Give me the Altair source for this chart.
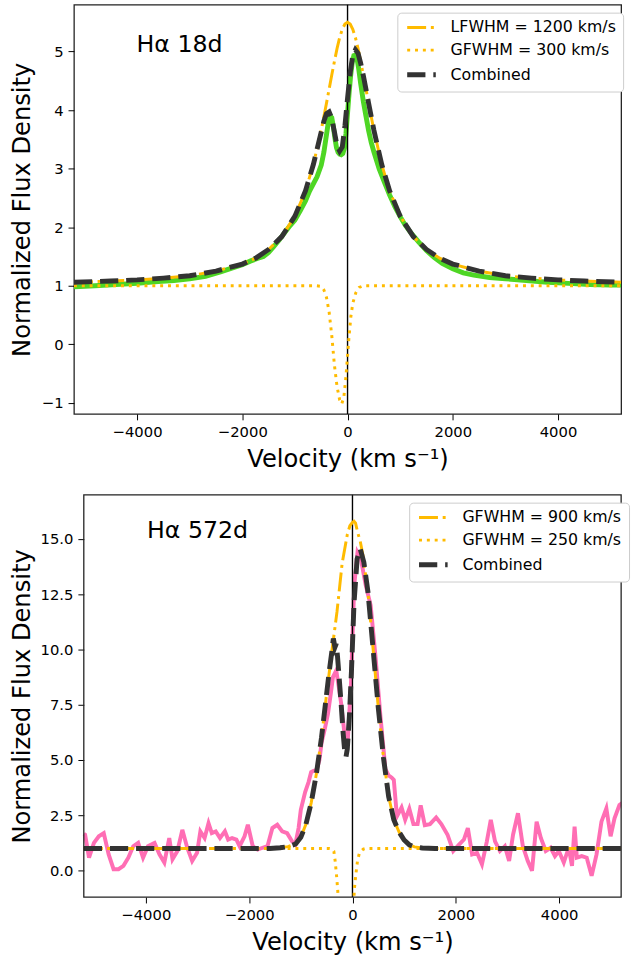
import altair as alt
import pandas as pd

FONT = "DejaVu Sans"
ORANGE = "#FFBB00"
DARK = "#333333"
GREEN = "#4ed624"
PINK = "#FF6EB4"
FRAME = "#222222"
XDOM = [-5200, 5200]
XTICKS = [-4000, -2000, 0, 2000, 4000]

# ---------------- Top panel: H-alpha 18d ----------------
obs18_v = [-5200, -4800, -4400, -4000, -3600, -3300, -3000, -2700, -2400, -2200,
           -2000, -1850, -1700, -1600, -1500, -1400, -1300, -1200, -1100, -1000,
           -900, -800, -720, -650, -580, -500, -450, -400, -360, -330,
           -300, -270, -240, -210, -180, -150, -120, -90, -60, -30,
           0, 30, 60, 90, 120, 150, 180, 210, 250, 300,
           350, 400, 450, 500, 600, 700, 800, 900, 1000, 1100,
           1200, 1350, 1500, 1650, 1800, 2000, 2200, 2400, 2700, 3000,
           3400, 3800, 4200, 4600, 5000, 5200]
obs18_f = [0.98, 1.00, 1.02, 1.04, 1.07, 1.09, 1.12, 1.16, 1.24, 1.30,
           1.36, 1.42, 1.47, 1.50, 1.57, 1.67, 1.78, 1.90, 2.02, 2.12,
           2.28, 2.45, 2.62, 2.74, 2.86, 3.06, 3.28, 3.58, 3.82, 3.90,
           3.87, 3.72, 3.52, 3.36, 3.28, 3.25, 3.24, 3.26, 3.35, 3.60,
           3.95, 4.30, 4.60, 4.82, 4.93, 4.94, 4.88, 4.72, 4.45, 4.15,
           3.90, 3.65, 3.45, 3.29, 3.00, 2.77, 2.55, 2.35, 2.18, 2.03,
           1.91, 1.75, 1.60, 1.48, 1.38, 1.29, 1.22, 1.18, 1.14, 1.12,
           1.09, 1.06, 1.04, 1.02, 1.01, 1.01]

lor18_v = [-5200, -4500, -4000, -3500, -3000, -2500, -2000, -1750, -1500, -1250,
           -1000, -800, -650, -500, -400, -300, -250, -200, -150, -100,
           -50, 0, 50, 100, 150, 200, 250, 300, 400, 500,
           650, 800, 1000, 1250, 1500, 1750, 2000, 2500, 3000, 3500,
           4000, 4500, 5200]
lor18_f = [1.06, 1.08, 1.10, 1.13, 1.17, 1.25, 1.37, 1.47, 1.62, 1.84,
           2.19, 2.62, 3.07, 3.66, 4.12, 4.60, 4.83, 5.05, 5.24, 5.38,
           5.47, 5.50, 5.47, 5.38, 5.24, 5.05, 4.83, 4.60, 4.12, 3.66,
           3.07, 2.62, 2.19, 1.84, 1.62, 1.47, 1.37, 1.25, 1.17, 1.13,
           1.10, 1.08, 1.06]

g18_v = [-5200, -600, -500, -450, -400, -350, -300, -250, -200, -150,
         -110, -70, -30, 0, 30, 64, 100, 157, 220, 300, 5200]
g18_f = [1.0, 1.0, 0.99, 0.93, 0.80, 0.55, 0.15, -0.35, -0.72, -0.95,
         -1.02, -0.90, -0.55, -0.20, 0.15, 0.48, 0.70, 0.88, 0.97, 1.0, 1.0]

c18_v = [-5200, -4500, -4000, -3500, -3000, -2500, -2000, -1750, -1500, -1250,
         -1000, -800, -650, -550, -450, -400, -350, -300, -250, -200,
         -150, -100, -50, 0, 50, 100, 150, 200, 250, 300,
         400, 500, 650, 800, 1000, 1250, 1500, 1750, 2000, 2500,
         3000, 3500, 4000, 4500, 5200]
c18_f = [1.06, 1.08, 1.10, 1.13, 1.17, 1.25, 1.37, 1.47, 1.62, 1.84,
         2.19, 2.62, 3.07, 3.44, 3.81, 3.94, 3.97, 3.86, 3.63, 3.39,
         3.30, 3.37, 3.73, 4.20, 4.64, 4.93, 5.03, 4.97, 4.80, 4.59,
         4.12, 3.66, 3.07, 2.62, 2.19, 1.84, 1.62, 1.47, 1.37, 1.25,
         1.17, 1.13, 1.10, 1.08, 1.06]

names18 = ["LFWHM = 1200 km/s", "GFWHM = 300 km/s", "Combined"]
label18 = ["Hα 18d"]
label18_v = [-4010]
label18_f = [4.99]
ydom18 = [-1.19, 5.8]
yticks18 = [-1, 0, 1, 2, 3, 4, 5]

# ---------------- Bottom panel: H-alpha 572d ----------------
obs572_v = [-5200, -5175, -5099, -5004, -4909, -4814, -4719, -4624, -4529, -4433,
            -4338, -4243, -4148, -4053, -3958, -3831, -3736, -3641, -3546, -3483,
            -3388, -3293, -3198, -3103, -3008, -2944, -2862, -2786, -2723, -2646,
            -2564, -2469, -2406, -2330, -2247, -2184, -2089, -2025, -1930, -1835,
            -1740, -1645, -1550, -1455, -1360, -1265, -1170, -1106, -1043, -1000,
            -916, -850, -800, -760, -694, -640, -599, -536, -473, -420,
            -378, -314, -265, -219, -156, -93, -29, 34, 97, 162,
            257, 352, 447, 542, 637, 700, 760, 800, 860, 950,
            1020, 1100, 1180, 1260, 1320, 1400, 1500, 1620, 1720, 1840,
            1950, 2062, 2157, 2233, 2316, 2411, 2506, 2601, 2677, 2759,
            2854, 2949, 3032, 3108, 3203, 3298, 3393, 3475, 3564, 3646,
            3741, 3836, 3919, 3995, 4090, 4185, 4249, 4299, 4343, 4438,
            4534, 4629, 4724, 4819, 4914, 4996, 5072, 5167, 5250]
obs572_f = [1.66, 1.62, 0.58, 1.25, 1.55, 1.69, 0.73, 0.06, 0.06, 0.21,
            0.58, 1.10, 1.25, 0.58, 1.10, 1.25, 0.73, 0.36, 1.47, 0.51,
            0.88, 1.84, 1.03, 0.43, 0.80, 1.77, 1.47, 2.14, 1.69, 1.77,
            1.47, 1.77, 1.40, 1.47, 1.40, 1.10, 1.55, 2.07, 1.10, 0.95,
            1.03, 1.10, 1.92, 2.07, 1.77, 1.69, 1.32, 1.18, 1.92, 2.75,
            3.55, 4.0, 4.45, 4.5, 4.55, 5.0, 5.78, 6.4, 7.11, 8.0,
            8.75, 9.05, 8.3, 7.56, 6.22, 5.78, 8.45, 12.9, 14.39, 14.1,
            12.9, 12.0, 9.64, 6.96, 4.59, 4.3, 4.2, 4.1, 2.45, 2.85,
            2.3, 2.8, 2.1, 2.1, 2.95, 2.05, 2.1, 2.4, 2.1, 1.62,
            0.88, 1.17, 1.40, 1.92, 0.73, 0.80, 0.28, 1.32, 2.29, 1.32,
            0.88, 1.10, 0.43, 1.62, 2.59, 1.10, 0.43, -0.01, 2.21, 1.47,
            0.88, 1.03, 0.65, 0.88, 0.36, 1.03, 0.21, 1.99, 0.58, 0.65,
            0.58, -0.24, 0.73, 2.21, 2.81, 1.55, 2.36, 2.96, 3.1]

em_v = [-5200, -1600, -1400, -1250, -1100, -1000, -900, -800, -700, -600,
        -500, -400, -300, -200, -100, -50, 0, 30, 60, 100,
        150, 200, 300, 400, 500, 600, 700, 800, 900, 1000,
        1100, 1200, 1350, 1600, 5200]
em_f = [1.0, 1.0, 1.03, 1.08, 1.2, 1.5, 2.1, 3.05, 4.35, 6.0,
        8.0, 9.9, 11.7, 13.9, 15.2, 15.6, 15.75, 15.8, 15.72, 15.3,
        14.9, 14.3, 12.6, 10.0, 7.35, 5.1, 3.35, 2.3, 1.75, 1.38,
        1.16, 1.07, 1.02, 1.0, 1.0]

ab_v = [-5200, -450, -420, -390, -360, -335, -305, -285, -260, -220,
        -170, -125, -80, -40, 0, 34, 66, 97, 130, 162,
        210, 257, 5200]
ab_f = [1.0, 1.0, 0.99, 0.96, 0.87, 0.43, -0.31, -0.91, -2.0, -5.0,
        -7.4, -8.8, -8.0, -6.0, -3.5, -0.91, -0.16, 0.43, 0.75, 0.87,
        0.97, 1.0, 1.0]

cb_v = [-5200, -1600, -1400, -1250, -1100, -1000, -900, -800, -700, -600,
        -500, -450, -400, -370, -340, -315, -290, -260, -220, -180,
        -150, -125, -100, -60, -20, 30, 90, 150, 220, 300,
        400, 500, 600, 700, 800, 900, 1000, 1100, 1200, 1350,
        1600, 5200]
cb_f = [1.0, 1.0, 1.03, 1.08, 1.2, 1.5, 2.1, 3.05, 4.35, 6.0,
        8.0, 9.0, 9.9, 10.5, 10.1, 10.25, 9.7, 8.8, 7.56, 6.2,
        5.4, 5.15, 5.5, 6.96, 9.0, 12.1, 14.1, 14.55, 13.95, 12.6,
        10.0, 7.35, 5.1, 3.35, 2.3, 1.75, 1.38, 1.16, 1.07, 1.02,
        1.0, 1.0]

names572 = ["GFWHM = 900 km/s", "GFWHM = 250 km/s", "Combined"]
label572 = ["Hα 572d"]
label572_v = [-3977]
label572_f = [15.06]
ydom572 = [-1.2, 17.0]
yticks572 = [0.0, 2.5, 5.0, 7.5, 10.0, 12.5, 15.0]

DASH_LINE = [19.2, 4.8, 3, 4.8]
DASH_DOT = [3, 4.95]
DASH_COMB = [18.5, 8]


def frame(v, f, s=None):
    d = pd.DataFrame({"v": v, "f": f})
    if s is not None:
        d["s"] = s
    return d


def panel(obs_v, obs_f, obs_color, obs_w, m1, m2, mc, names, lab, lab_v, lab_f,
          ydom, yticks, yfmt, w, h, lx, ly, xrange, yoffset, ytitlepad, own_frame):
    xscale = alt.Scale(domain=XDOM, nice=False, zero=False)
    if xrange is not None:
        xscale = alt.Scale(domain=XDOM, range=xrange, nice=False, zero=False)
    x = alt.X("v:Q", scale=xscale,
              axis=alt.Axis(values=XTICKS, format="d", title="Velocity (km s⁻¹)"))
    y = alt.Y("f:Q", scale=alt.Scale(domain=ydom, nice=False, zero=False),
              axis=alt.Axis(values=yticks, format=yfmt, title="Normalized Flux Density",
                            offset=yoffset, titlePadding=ytitlepad))
    dash_expr = (f"datum.value === '{names[2]}' ? [18.5, 8] : "
                 f"(datum.value === '{names[0]}' ? [19.2, 4.8, 3, 4.8] : [3, 4.95])")
    width_expr = f"datum.value === '{names[2]}' ? 5 : 3"
    legend = alt.Legend(
        orient="none", legendX=lx, legendY=ly,
        symbolDash={"expr": dash_expr},
        symbolStrokeWidth={"expr": width_expr},
    )
    color = alt.Color("s:N", title=None,
                      scale=alt.Scale(domain=names, range=[ORANGE, ORANGE, DARK]),
                      legend=legend)
    obs = alt.Chart(frame(obs_v, obs_f)).mark_line(
        color=obs_color, strokeWidth=obs_w, clip=True).encode(x=x, y=y)
    vline = alt.Chart(pd.DataFrame({"v": [0]})).mark_rule(
        color="black", strokeWidth=1.4).encode(x=x)
    l1 = alt.Chart(frame(m1[0], m1[1], names[0])).mark_line(
        strokeDash=DASH_LINE, strokeWidth=3, clip=True).encode(x=x, y=y, color=color)
    l2 = alt.Chart(frame(m2[0], m2[1], names[1])).mark_line(
        strokeDash=DASH_DOT, strokeWidth=3, clip=True).encode(x=x, y=y, color=color)
    l3 = alt.Chart(frame(mc[0], mc[1], names[2])).mark_line(
        strokeDash=DASH_COMB, strokeWidth=5, clip=True).encode(x=x, y=y, color=color)
    txt = alt.Chart(pd.DataFrame({"v": lab_v, "f": lab_f, "t": lab})).mark_text(
        align="left", baseline="alphabetic", fontSize=24, font=FONT, color="black"
    ).encode(x=x, y=y, text="t:N")
    layers = [obs, vline, l1, l2, l3, txt]
    props = dict(width=w, height=h)
    if own_frame:
        # frame drawn along the data domain, since the plotted range is inset in the view
        box = pd.DataFrame({"v": [XDOM[0]], "v2": [XDOM[1]], "f": [ydom[0]], "f2": [ydom[1]]})
        rect = alt.Chart(box).mark_rect(
            fill="transparent", stroke=FRAME, strokeWidth=1.3
        ).encode(x=x, x2="v2:Q", y=y, y2="f2:Q")
        layers.append(rect)
        props["view"] = alt.ViewBackground(stroke="transparent")
    return alt.layer(*layers).properties(**props)


top = panel(obs18_v, obs18_f, GREEN, 5, (lor18_v, lor18_f), (g18_v, g18_f),
            (c18_v, c18_f), names18, label18, label18_v, label18_f,
            ydom18, yticks18, "d", 555, 415, 328, 8,
            None, 0, 7.4, False)
bottom = panel(obs572_v, obs572_f, PINK, 4, (em_v, em_f), (ab_v, ab_f),
               (cb_v, cb_f), names572, label572, label572_v, label572_f,
               ydom572, yticks572, ".1f", 555, 408, 340, 8,
               [10, 555], -10, 6.1, True)

chart = alt.vconcat(top, bottom, spacing=21).resolve_scale(
    color="independent"
).properties(
    padding={"left": 8, "top": -4, "right": 0, "bottom": -4},
    background="white",
).configure_view(
    stroke=FRAME, strokeWidth=1.3
).configure_axis(
    labelFont=FONT, labelFontSize=15, labelColor="black",
    titleFont=FONT, titleFontSize=24.5, titleFontWeight="normal", titleColor="black",
    tickColor="black", tickSize=6, tickWidth=1, labelPadding=5, titlePadding=8,
    grid=False, domain=False,
).configure_legend(
    labelFont=FONT, labelFontSize=16, labelColor="black", labelLimit=300,
    symbolType="M-1,0H4.8", symbolSize=100,
    padding=7, rowPadding=7, labelOffset=31,
    fillColor="white", strokeColor="#cccccc", cornerRadius=4,
)

chart.save("out.html", embed_options={"renderer": "svg", "actions": False})
